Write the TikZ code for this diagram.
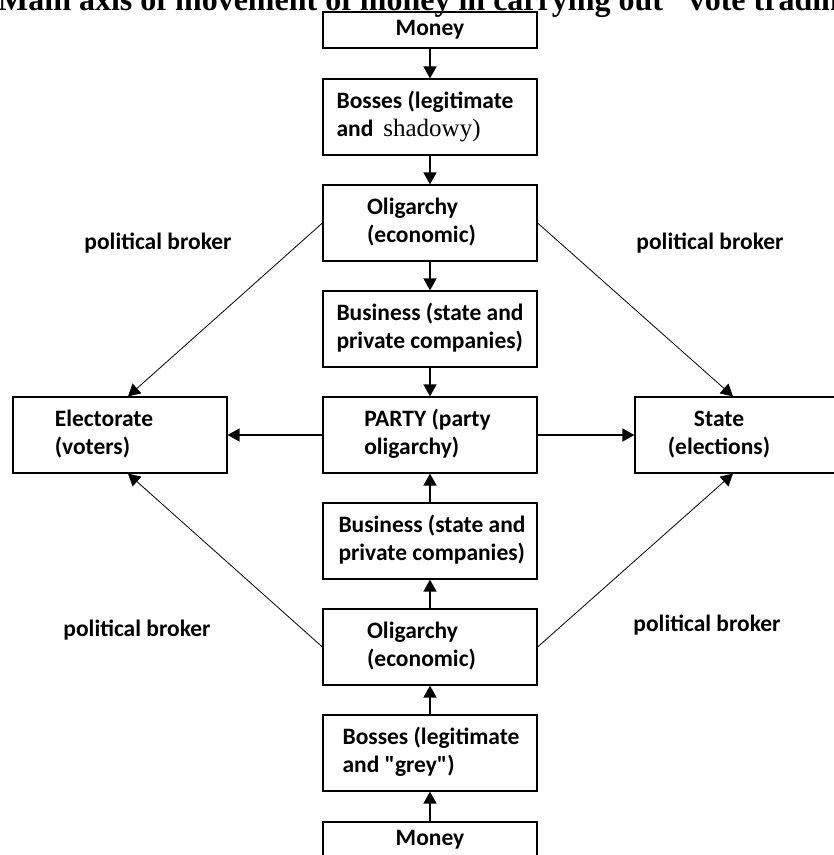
\documentclass[tikz,border=0pt]{standalone}
\usepackage{fontspec}
\setmainfont{Carlito}[Ligatures=TeXOff]
\newfontfamily\titlefont{Liberation Serif}
\newfontfamily\plainserif{Liberation Serif}
\usetikzlibrary{arrows.meta}

% two-line label, left aligned, with padding (left, right) to move it sideways
\newcommand{\twolines}[4]{\begin{tabular}{@{\hspace{#1}}l@{\hspace{#2}}}#3\\#4\end{tabular}}

\tikzset{
  stage/.style={draw, line width=1.2pt, minimum width=214pt, minimum height=76pt,
    inner sep=0pt, font=\bfseries\fontsize{23.5}{28}\selectfont},
  moneybox/.style={stage, minimum height=36pt},
  flow/.style={line width=1.6pt, -{Triangle[length=12pt,width=13pt]}},
  broker/.style={line width=0.8pt, -{Triangle[length=12pt,width=13pt]}},
  note/.style={font=\bfseries\fontsize{23.5}{28}\selectfont, inner sep=0pt}
}

\begin{document}
\begin{tikzpicture}[x=1pt, y=-1pt]
\useasboundingbox (0,0) rectangle (834,855);
\begin{scope}
\clip (0,0) rectangle (834,855);
\renewcommand{\arraystretch}{1.0}
\setlength{\tabcolsep}{0pt}

% heading, running past the page edges
\node[anchor=base west, inner sep=0pt, font=\titlefont\bfseries\fontsize{32}{36}\selectfont]
  (title) at (-2,10) {Main axis of movement of money in carrying out "vote trading"};

% central column
\node[moneybox] (money1) at (430,30) {Money};
\node[stage] (bosses1) at (430,117)
  {\twolines{0pt}{10pt}{Bosses (legitimate}{and\hspace{10pt}{\plainserif\mdseries\fontsize{25}{28}\selectfont shadowy)}}};
\node[stage] (olig1) at (430,223) {\twolines{0pt}{17pt}{Oligarchy}{(economic)}};
\node[stage] (bus1) at (430,329) {\twolines{0pt}{0pt}{Business (state and}{private companies)}};
\node[stage] (party) at (430,435) {\twolines{0pt}{5pt}{PARTY (party}{oligarchy)}};
\node[stage] (bus2) at (430,541) {\twolines{4pt}{0pt}{Business (state and}{private companies)}};
\node[stage] (olig2) at (430,647) {\twolines{0pt}{17pt}{Oligarchy}{(economic)}};
\node[stage] (bosses2) at (430,753) {\twolines{2pt}{0pt}{Bosses (legitimate}{and "grey")}};
\node[moneybox] (money2) at (430,840) {Money};

% side boxes
\node[stage] (elect) at (120,435) {\twolines{0pt}{32pt}{Electorate}{(voters)}};
\node[stage] (state) at (742,435)
  {\begin{tabular}{@{}c@{\hspace{46pt}}}State\\(elections)\end{tabular}};

% brokers
\node[note] (b1) at (158,243) {political broker};
\node[note] (b2) at (710,243) {political broker};
\node[note] (b3) at (137,630) {political broker};
\node[note] (b4) at (707,625) {political broker};

% downward flow
\draw[flow] (money1) -- (bosses1);
\draw[flow] (bosses1) -- (olig1);
\draw[flow] (olig1) -- (bus1);
\draw[flow] (bus1) -- (party);
% upward flow
\draw[flow] (money2) -- (bosses2);
\draw[flow] (bosses2) -- (olig2);
\draw[flow] (olig2) -- (bus2);
\draw[flow] (bus2) -- (party);
% party to both sides
\draw[flow] (party) -- (elect);
\draw[flow] (party) -- (state);

% diagonal links
\draw[broker] (olig1.west) -- ([xshift=8pt]elect.north);
\draw[broker] (olig1.east) -- ([xshift=-9pt]state.north);
\draw[broker] (olig2.west) -- ([xshift=8pt]elect.south);
\draw[broker] (olig2.east) -- ([xshift=-9pt]state.south);
\end{scope}
\end{tikzpicture}
\end{document}
